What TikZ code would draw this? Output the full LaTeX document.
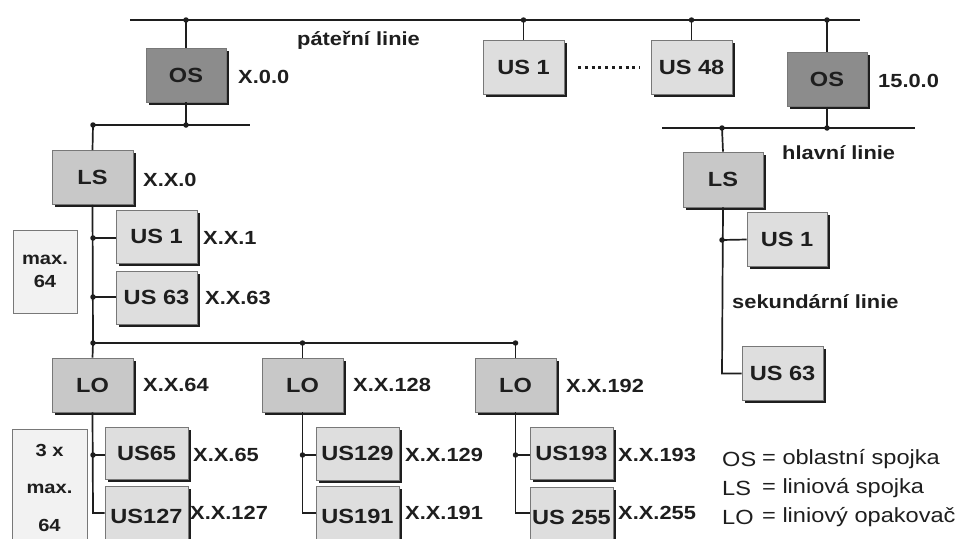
\documentclass[tikz,border=0pt]{standalone}
\usepackage{fontspec}
\setmainfont{Liberation Sans}[FakeStretch=1.15]
\usetikzlibrary{shadows}
\definecolor{osfill}{HTML}{8C8C8C}
\definecolor{lsfill}{HTML}{C8C8C8}
\definecolor{usfill}{HTML}{DEDEDE}
\definecolor{mxfill}{HTML}{F2F2F2}
\definecolor{ink}{HTML}{1E1E1E}
\tikzset{
  dev/.style={draw=ink!60, line width=0.6pt, minimum width=81pt, minimum height=54pt,
    inner sep=0pt, font=\fontsize{20.5}{22}\selectfont\bfseries, text=ink,
    drop shadow={shadow xshift=2.5pt, shadow yshift=-2.5pt, fill=ink, opacity=1}},
  osbox/.style={dev, fill=osfill},
  lsbox/.style={dev, fill=lsfill},
  usbox/.style={dev, fill=usfill},
  mxbox/.style={draw=ink!60, line width=0.6pt, fill=mxfill, inner sep=0pt,
    font=\fontsize{17.5}{21}\selectfont\bfseries, text=ink, align=center},
  mxtxt/.style={font=\fontsize{17.5}{21}\selectfont\bfseries, text=ink, inner sep=0pt},
  lbl/.style={anchor=west, inner sep=0pt, font=\fontsize{19}{21}\selectfont\bfseries, text=ink},
  leg/.style={anchor=west, inner sep=0pt, font=\fontsize{20.5}{22}\selectfont, text=ink},
  ln/.style={draw=ink, line width=1.7pt},
  dot/.style={circle, fill=ink, inner sep=0pt, minimum size=5.5pt}
}
\begin{document}
\begin{tikzpicture}[x=1pt,y=-1pt]
\path[use as bounding box, fill=white] (0,0) rectangle (957,538);
\begin{scope}
\clip (0,0) rectangle (957,538);
% backbone
\coordinate (bbL) at (130,20);
\coordinate (bbR) at (860,20);
\draw[ln] (bbL) -- (bbR);
\node[lbl] (tpat) at (297,40) {páteřní linie};
% top nodes
\node[osbox, minimum width=80pt] (osa) at (186,75) {OS};
\node[usbox] (ust1) at (523.5,67.5) {US 1};
\node[usbox] (ust48) at (691.5,67.5) {US 48};
\node[osbox, minimum width=80pt] (osb) at (827,79.5) {OS};
\node[lbl] (losa) at (238,77) {X.0.0};
\node[lbl] (losb) at (878,81) {15.0.0};
\coordinate (dl1) at (578,67);
\coordinate (dl2) at (640,67);
\draw[ink, line width=3pt, dash pattern=on 3pt off 3.8pt] (dl1) -- (dl2);
% backbone drops
\coordinate (b1) at (186,20);
\coordinate (b2) at (523.5,20);
\coordinate (b3) at (691.5,20);
\coordinate (b4) at (827,20);
\draw[ln] (b1) -- (osa.north);
\draw[ln] (b2) -- (ust1.north);
\draw[ln] (b3) -- (ust48.north);
\draw[ln] (b4) -- (osb.north);
\foreach \c in {b1,b2,b3,b4} \node[dot] at (\c) {};
% left main line
\coordinate (mlL) at (93,125);
\coordinate (mlR) at (250,125);
\coordinate (mlO) at (186,125);
\draw[ln] (mlL) -- (mlR);
\draw[ln] (osa.south) -- (mlO);
\node[dot] at (mlO) {};
\node[dot] at (mlL) {};
% right main line
\coordinate (hlL) at (662,128);
\coordinate (hlR) at (915,128);
\coordinate (hlO) at (827,128);
\coordinate (hlS) at (722,128);
\draw[ln] (hlL) -- (hlR);
\draw[ln] (osb.south) -- (hlO);
\node[dot] at (hlO) {};
\node[dot] at (hlS) {};
\node[lbl] (thl) at (782,153) {hlavní linie};
% left LS
\node[lsbox] (lsa) at (92.5,177.5) {LS};
\node[lbl] (llsa) at (143,180) {X.X.0};
\draw[ln] (mlL) -- (lsa.north);
\node[usbox, minimum height=53pt] (us1a) at (156.5,236.5) {US 1};
\node[usbox, minimum height=53pt] (us63a) at (156.5,297.5) {US 63};
\node[lbl] (lus1a) at (203,238) {X.X.1};
\node[lbl] (lus63a) at (205,298) {X.X.63};
\node[mxbox, minimum width=64pt, minimum height=83pt] (mx1) at (45,271.5) {max.\\[2pt]64};
\coordinate (ja1) at (93,238);
\coordinate (ja2) at (93,297);
\coordinate (lol) at (93,343);
\draw[ln] (lsa.south) -- (lol);
\draw[ln] (ja1) -- (ja1 -| us1a.west);
\draw[ln] (ja2) -- (ja2 -| us63a.west);
\node[dot] at (ja1) {};
\node[dot] at (ja2) {};
% LO line
\coordinate (lo2t) at (302.5,343);
\coordinate (lo3t) at (515.5,343);
\draw[ln] (lol) -- (lo3t);
\node[dot] at (lol) {};
\node[dot] at (lo2t) {};
\node[dot] at (lo3t) {};
\node[lsbox] (lo1) at (92.5,385) {LO};
\node[lsbox] (lo2) at (302.5,385) {LO};
\node[lsbox] (lo3) at (515.5,385) {LO};
\draw[ln] (lol) -- (lo1.north);
\draw[ln] (lo2t) -- (lo2.north);
\draw[ln] (lo3t) -- (lo3.north);
\node[lbl] (llo1) at (143,385) {X.X.64};
\node[lbl] (llo2) at (353,385) {X.X.128};
\node[lbl] (llo3) at (566,386) {X.X.192};
% LO1 subtree
\node[usbox, minimum width=83pt, minimum height=52pt] (us65) at (146.5,453) {US65};
\node[usbox, minimum width=83pt, minimum height=60pt] (us127) at (146.5,516) {US127};
\node[lbl] (lus65) at (193,455) {X.X.65};
\node[lbl] (lus127) at (190,513) {X.X.127};
\node[mxbox, minimum width=75pt, minimum height=120pt] (mx3) at (49.5,489) {};
\node[mxtxt] (mx3a) at (49.5,450) {3 x};
\node[mxtxt] (mx3b) at (49.5,489) {max.};
\node[mxtxt] (mx3c) at (49.5,525) {64};
\coordinate (j11) at (93,455);
\coordinate (j12) at (93,513);
\draw[ln] (lo1.south) -- (j12) -- (j12 -| us127.west);
\draw[ln] (j11) -- (j11 -| us65.west);
\node[dot] at (j11) {};
% LO2 subtree
\node[usbox, minimum width=83pt, minimum height=53pt] (us129) at (357.5,453.5) {US129};
\node[usbox, minimum width=83pt, minimum height=60pt] (us191) at (357.5,516) {US191};
\node[lbl] (lus129) at (405,455) {X.X.129};
\node[lbl] (lus191) at (405,513) {X.X.191};
\coordinate (j21) at (302.5,455);
\coordinate (j22) at (302.5,513);
\draw[ln] (lo2.south) -- (j22) -- (j22 -| us191.west);
\draw[ln] (j21) -- (j21 -| us129.west);
\node[dot] at (j21) {};
% LO3 subtree
\node[usbox, minimum width=83pt, minimum height=52pt] (us193) at (571.5,453.5) {US193};
\node[usbox, minimum width=83pt, minimum height=60pt] (us255) at (571.5,517) {US 255};
\node[lbl] (lus193) at (618,455) {X.X.193};
\node[lbl] (lus255) at (618,513) {X.X.255};
\coordinate (j31) at (515.5,455);
\coordinate (j32) at (515.5,513);
\draw[ln] (lo3.south) -- (j32) -- (j32 -| us255.west);
\draw[ln] (j31) -- (j31 -| us193.west);
\node[dot] at (j31) {};
% right LS subtree
\node[lsbox, minimum width=80pt, minimum height=55pt] (lsb) at (723,179.5) {LS};
\draw[ln] (hlS) -- (lsb.north);
\node[usbox, minimum width=80pt] (us1b) at (787,239.5) {US 1};
\node[usbox, minimum width=81pt] (us63b) at (782.5,373.5) {US 63};
\node[lbl] (tsek) at (732,302) {sekundární linie};
\coordinate (jb1) at (722,240);
\coordinate (jb2) at (722,373.5);
\draw[ln] (lsb.south) -- (jb2) -- (us63b.west);
\draw[ln] (jb1) -- (us1b.west);
\node[dot] at (jb1) {};
% legend
\node[leg] (g1a) at (722,459) {OS};
\node[leg] (g1b) at (762,459) {= oblastní spojka};
\node[leg] (g2a) at (722,488) {LS};
\node[leg] (g2b) at (762,488) {= liniová spojka};
\node[leg] (g3a) at (722,517) {LO};
\node[leg] (g3b) at (762,517) {= liniový opakovač};
\end{scope}
\end{tikzpicture}
\end{document}
